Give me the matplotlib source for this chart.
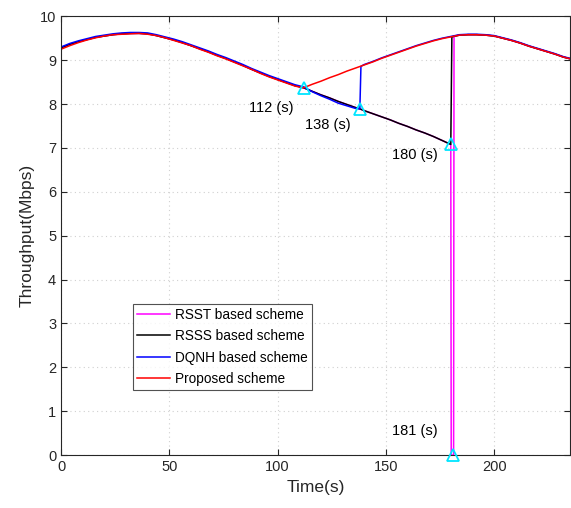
import numpy as np
import matplotlib
matplotlib.use("Agg")
import matplotlib.pyplot as plt

plt.rcParams['font.family'] = ['Liberation Sans', 'DejaVu Sans']

# shared part of all curves before the first handover (s, Mbps)
early_t = [0, 4, 8, 12, 16, 20, 24, 28, 32, 36, 40, 44, 48, 52, 56, 60, 64,
           68, 72, 76, 80, 84, 88, 92, 96, 100, 104, 108, 112]
early_v = [9.28, 9.36, 9.42, 9.47, 9.52, 9.55, 9.58, 9.60, 9.61, 9.61, 9.60,
           9.56, 9.51, 9.46, 9.40, 9.33, 9.26, 9.19, 9.11, 9.04, 8.96, 8.88,
           8.79, 8.71, 8.63, 8.56, 8.49, 8.42, 8.37]
early_red = [9.25, 9.33, 9.40, 9.46, 9.51, 9.55, 9.58, 9.59, 9.60, 9.61, 9.59,
             9.56, 9.51, 9.45, 9.39, 9.33, 9.25, 9.18, 9.10, 9.03, 8.95, 8.87,
             8.79, 8.70, 8.62, 8.55, 8.48, 8.41, 8.37]

# serving cell after the handover (upper curve)
late_t = [112, 116, 120, 124, 128, 132, 136, 140, 144, 148, 152, 156, 160,
          164, 168, 172, 176, 180, 184, 188, 192, 196, 200, 204, 208, 212,
          216, 220, 224, 228, 232, 236]
late_v = [8.37, 8.45, 8.52, 8.60, 8.67, 8.75, 8.82, 8.89, 8.96, 9.04, 9.11,
          9.18, 9.25, 9.32, 9.38, 9.44, 9.49, 9.53, 9.57, 9.58, 9.58, 9.57,
          9.55, 9.50, 9.45, 9.39, 9.32, 9.26, 9.20, 9.14, 9.07, 9.02]

# old cell when the handover is delayed
old_t = [112, 116, 120, 124, 128, 132, 136, 138, 140, 144, 148, 152, 156,
         160, 164, 168, 172, 176, 180]
old_v = [8.37, 8.29, 8.21, 8.14, 8.06, 7.99, 7.92, 7.89, 7.85, 7.78, 7.71,
         7.64, 7.56, 7.49, 7.41, 7.34, 7.26, 7.17, 7.08]
old_blue = [8.37, 8.28, 8.19, 8.11, 8.02, 7.96, 7.90, 7.89]

ho_t = [112, 138, 180, 181]
ho_v = [8.37, 7.89, 7.08, 0.0]
ho_labels = ['112 (s)', '138 (s)', '180 (s)', '181 (s)']
label_pos = [(97.2, 7.90), (123.0, 7.52), (163.6, 6.83), (163.6, 0.55)]


def late_from(t0):
    t = [x for x in late_t if x > t0]
    v = [late_v[late_t.index(x)] for x in t]
    return t, v


# RSST: late handover with outage
lt, lv = late_from(182)
rsst_t = early_t + old_t[1:] + [180.2, 181.3, 181.5] + lt
rsst_v = early_v + old_v[1:] + [0.0, 0.0, 9.55] + lv

# RSSS: late handover
lt, lv = late_from(180.5)
rsss_t = early_t + old_t[1:] + [180.5] + lt
rsss_v = early_v + old_v[1:] + [9.53] + lv

# DQNH
lt, lv = late_from(138.5)
dqnh_t = early_t + old_t[1:8] + [138.5] + lt
dqnh_v = [v + 0.02 for v in early_v] + old_blue[1:] + [8.86] + [v + 0.01 for v in lv]

# proposed
prop_t = early_t + late_t[1:]
prop_v = early_red + late_v[1:]

fig = plt.figure(figsize=(5.71, 5.08), dpi=100)
ax = fig.add_axes([0.107, 0.104, 0.891, 0.864])

ax.plot(rsst_t, rsst_v, color='#ff00ff', lw=1.1, label='RSST based scheme')
ax.plot(rsss_t, rsss_v, color='black', lw=1.1, label='RSSS based scheme')
ax.plot(dqnh_t, dqnh_v, color='#0000ff', lw=1.1, label='DQNH based scheme')
ax.plot(prop_t, prop_v, color='#ff0000', lw=1.1, label='Proposed scheme')

ax.plot(ho_t, ho_v, linestyle='none', marker='^', markersize=9,
        markerfacecolor='none', markeredgecolor='#00e5ff', mew=1.3,
        clip_on=False, zorder=5)
for txt, (x, y) in zip(ho_labels, label_pos):
    ax.text(x, y, txt, fontsize=10.5, ha='center', va='center')

ax.set_xlim(0, 235)
ax.set_ylim(0, 10)
ax.set_xticks([0, 50, 100, 150, 200])
ax.set_yticks(range(0, 11))
ax.tick_params(direction='in', top=True, right=True, labelsize=10.5,
               length=4, colors='#262626')
ax.grid(True, linestyle=(0, (1, 3)), color='#d0d0d0', linewidth=0.8)
for s in ax.spines.values():
    s.set_color('#262626')
ax.set_xlabel('Time(s)', fontsize=12.5, color='#262626')
ax.set_ylabel('Throughput(Mbps)', fontsize=12.5, color='#262626')

leg = ax.legend(loc='lower left', bbox_to_anchor=(0.141, 0.148),
                borderaxespad=0, fancybox=False, edgecolor='#262626',
                fontsize=9.8, handlelength=2.4, handletextpad=0.4,
                labelspacing=0.55, borderpad=0.3)
leg.get_frame().set_linewidth(0.8)

fig.savefig('out.png', dpi=100)
